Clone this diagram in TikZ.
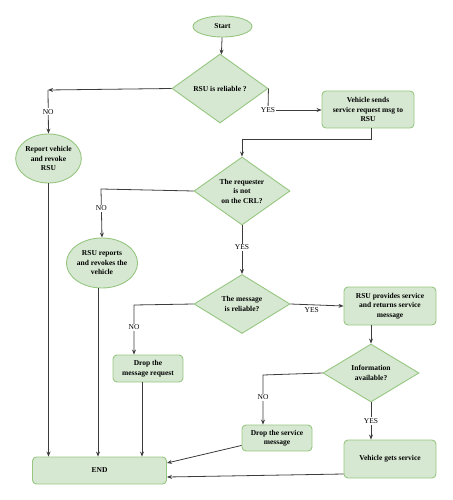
\documentclass[tikz,border=0pt]{standalone}
\usepackage{fontspec}
\setmainfont{Liberation Serif}
\usepackage{tikz}
\usetikzlibrary{
    positioning,
    arrows.meta,
    shapes.geometric
}
\definecolor{flowfill}{RGB}{214,232,210}
\definecolor{flowdraw}{RGB}{150,198,128}
\definecolor{flowline}{RGB}{60,60,60}
\tikzset{
    flowbox/.style={
        rectangle, draw=flowdraw, fill=flowfill, line width=0.9pt,
        rounded corners=4pt, align=center, inner sep=1pt,
        font=\fontsize{7.5}{9.5}\selectfont\bfseries
    },
    flowoval/.style={
        ellipse, draw=flowdraw, fill=flowfill, line width=0.9pt,
        align=center, inner sep=0pt,
        font=\fontsize{7.5}{9.5}\selectfont\bfseries
    },
    decision/.style={
        diamond, aspect=1.4, draw=flowdraw, fill=flowfill, line width=0.9pt,
        align=center, inner sep=0pt,
        font=\fontsize{7.5}{9.5}\selectfont\bfseries
    },
    arrow/.style={
        -{Stealth[length=5pt,width=4pt]}, line width=0.8pt, draw=flowline
    },
    plain/.style={
        line width=0.8pt, draw=flowline
    },
    branch/.style={
        fill=white, inner sep=1pt, font=\fontsize{7.5}{9}\selectfont
    }
}
\begin{document}
\begin{tikzpicture}[x=1pt, y=-1pt]
    \useasboundingbox (0,0) rectangle (452,500);

    % --- START & FIRST CHECK ---
    \node[flowoval, minimum width=59pt, minimum height=21pt] (start) at (222.5,26.5) {Start};
    \node[decision, minimum width=96pt, minimum height=69pt] (rsu_ok) at (220,88.5) {RSU is reliable ?};
    \node[flowoval, minimum width=65pt, minimum height=49pt] (report_rsu) at (48.5,158.5) {Report vehicle\\and revoke\\RSU};
    \node[flowbox, minimum width=92pt, minimum height=37pt] (send_req) at (368,109.5) {Vehicle sends\\service request msg to\\RSU};

    % --- CRL CHECK ---
    \node[decision, minimum width=96pt, minimum height=68pt] (crl_ok) at (242,191) {The requester\\is not\\on the CRL?};
    \node[flowoval, minimum width=65pt, minimum height=50pt] (report_veh) at (102,263) {RSU reports\\and revokes the\\vehicle};

    % --- MESSAGE CHECK ---
    \node[decision, minimum width=96pt, minimum height=59pt] (msg_ok) at (242,304) {The message\\is reliable?};
    \node[flowbox, minimum width=92pt, minimum height=38pt] (provide) at (390,306) {RSU provides service\\and returns service\\message};
    \node[flowbox, minimum width=70pt, minimum height=27pt] (drop_req) at (148,368.5) {Drop the\\message request};

    % --- INFORMATION CHECK ---
    \node[decision, minimum width=96pt, minimum height=58pt] (info_ok) at (371,373) {Information\\available?};
    \node[flowbox, minimum width=70pt, minimum height=26pt] (drop_srv) at (277,438) {Drop the service\\message};
    \node[flowbox, minimum width=92pt, minimum height=38pt] (gets_srv) at (390,459) {Vehicle gets service};

    % --- END ---
    \node[flowbox, minimum width=134pt, minimum height=27pt] (finish) at (99.5,470.5) {END};

    % --- HELPER POINTS ---
    \coordinate (no1) at (48,90);
    \coordinate (yes1) at (268,110);
    \coordinate (turn1) at (371,139);
    \coordinate (turn1b) at (242,139);
    \coordinate (no2) at (101,189);
    \coordinate (no3) at (134,305);
    \coordinate (no4) at (263,375);

    % --- ARROWS ---
    \draw[arrow] (start) -- (rsu_ok);
    \draw[arrow] (rsu_ok.west) -- (no1);
    \draw[arrow] (no1) -- node[branch, pos=0.5] {NO} (report_rsu.north);
    \draw[plain] (rsu_ok.east) -- (yes1);
    \draw[arrow] (yes1) -- (send_req.west |- yes1) node[branch, pos=0] {YES};
    \draw[plain] (send_req.south -| turn1) -- (turn1) -- (turn1b);
    \draw[arrow] (turn1b) -- (crl_ok.north);

    \draw[arrow] (crl_ok.west) -- (no2) -- node[branch, pos=0.4] {NO} (report_veh.north);
    \draw[arrow] (crl_ok.south) -- node[branch, pos=0.45] {YES} (msg_ok.north);

    \draw[arrow] (msg_ok.east) -- node[branch, below=1pt, pos=0.4] {YES} (provide.west);
    \draw[arrow] (msg_ok.west) -- (no3) -- node[branch, pos=0.45] {NO} (drop_req.north -| no3);

    \draw[arrow] (provide.south -| info_ok) -- (info_ok.north);
    \draw[arrow] (info_ok.west) -- (no4) -- node[branch, pos=0.45] {NO} (drop_srv.north -| no4);
    \draw[arrow] (info_ok.south) -- node[branch, pos=0.5] {YES} (gets_srv.north -| info_ok);

    \draw[arrow] (report_rsu.south) -- (finish.north -| report_rsu);
    \draw[arrow] (report_veh.south -| 98,0) -- (finish.north -| 98,0);
    \draw[arrow] (drop_req.south -| 142,0) -- (finish.north -| 142,0);
    \draw[arrow] (drop_srv.south west) ++(0,-6) -- (finish.east |- 0,463);
    \draw[arrow] (gets_srv.west |- 0,474) -- (finish.east |- 0,477);

\end{tikzpicture}
\end{document}
